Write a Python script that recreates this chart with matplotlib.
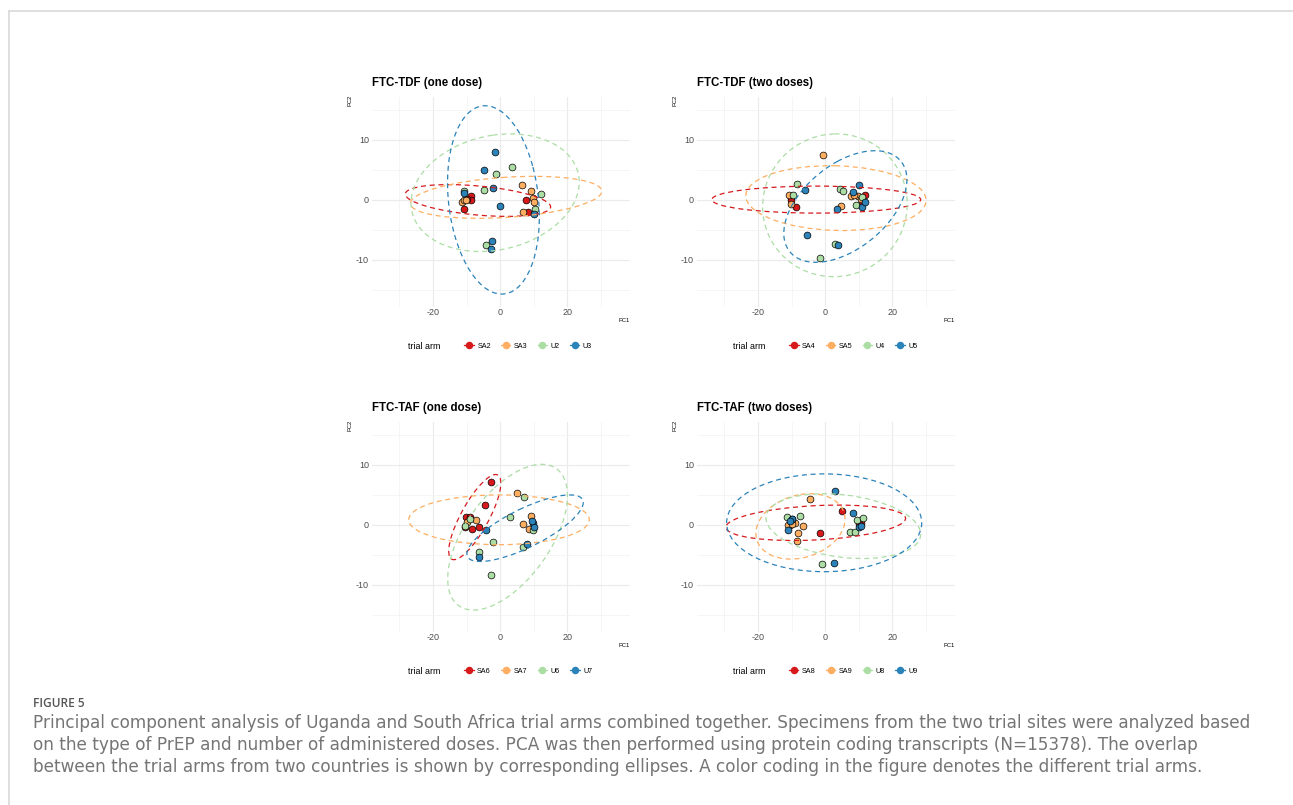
import numpy as np
import matplotlib
matplotlib.use("Agg")
import matplotlib.pyplot as plt
from matplotlib.patches import Ellipse
from matplotlib.lines import Line2D

plt.rcParams["font.family"] = ["Liberation Sans", "DejaVu Sans"]
plt.rcParams["axes.unicode_minus"] = False

# colours (Spectral palette without the middle yellow)
colors = ["#D7191C", "#FDAE61", "#ABDDA4", "#2B83BA"]

titles = ["FTC-TDF (one dose)", "FTC-TDF (two doses)",
          "FTC-TAF (one dose)", "FTC-TAF (two doses)"]

# %% panel 1 - FTC-TDF one dose
p1_labels = ["SA2", "SA3", "U2", "U3"]
p1_x = [[-8.8, -8.8, -10.7, 7.7, 8.4, -9.8],
        [6.4, 9.1, 9.7, 10.1, 6.7, -11.3, -10.7, -10.2],
        [3.5, -1.3, -4.7, -10.7, 12.1, 10.4, -4.3],
        [-1.5, -4.7, -2.0, -0.2, -10.7, 10.1, -2.5, -2.8]]
p1_y = [[0.6, 0.0, -1.55, 0.0, -2.0, 0.2],
        [2.5, 1.55, 0.3, -0.4, -2.1, -0.3, 0.0, -0.1],
        [5.4, 4.3, 1.7, 1.5, 1.0, -1.55, -7.5],
        [8.05, 4.9, 1.95, -1.0, 1.1, -2.3, -6.9, -8.2]]
# ellipses: centre x, centre y, half range x, half range y, correlation
p1_ell = [(-6.6, -0.1, 21.6, 2.65, -0.40),
          (1.75, 0.43, 28.45, 3.5, 0.29),
          (-1.5, 1.2, 25.0, 9.8, 0.18),
          (-2.0, 0.0, 13.65, 15.7, -0.18)]

# %% panel 2 - FTC-TDF two doses
p2_labels = ["SA4", "SA5", "U4", "U5"]
p2_x = [[-10.3, -10.2, -8.8, 11.7, 10.8],
        [-0.7, -10.7, -10.2, 7.7, 9.9, 4.8, 8.5, 10.6],
        [-8.5, -9.6, 4.4, 5.4, 9.2, 10.9, 3.0, -1.4],
        [-6.0, 10.1, 8.4, 10.8, 11.9, 3.6, -5.3, 3.9]]
p2_y = [[0.5, 0.0, -1.2, 0.8, -0.3],
        [7.5, 0.8, -0.7, 0.6, 0.6, -1.0, 0.8, 0.1],
        [2.7, 0.8, 1.8, 1.4, -0.9, 0.4, -7.3, -9.7],
        [1.6, 2.5, 1.3, -1.2, -0.4, -1.6, -5.9, -7.6]]
p2_ell = [(-2.65, 0.05, 31.05, 2.25, 0.0),
          (3.2, 0.3, 26.8, 5.4, -0.07),
          (2.9, -0.9, 21.5, 11.9, 0.02),
          (6.0, -1.1, 18.3, 9.3, 0.48)]

# %% panel 3 - FTC-TAF one dose
p3_labels = ["SA6", "SA7", "U6", "U7"]
p3_x = [[-2.7, -4.6, -10.1, -8.9, -10.4, -8.4, -6.2],
        [5.0, 9.3, 6.7, 8.7, -7.3, -9.8],
        [7.2, 2.9, -2.2, -6.4, -2.6, 6.9, 9.7, -10.4, -9.1],
        [9.7, 10.1, -4.1, -6.3, 8.1, 9.6]]
p3_y = [[7.2, 3.3, 1.4, 1.3, -0.3, -0.7, -0.3],
        [5.4, 1.5, 0.1, -0.7, 0.8, 0.5],
        [4.7, 1.4, -2.8, -4.5, -8.4, -3.6, -0.8, -0.2, 1.0],
        [0.4, -0.3, -0.8, -5.4, -3.2, 0.6]]
p3_ell = [(-7.55, 1.3, 7.75, 7.1, 0.80),
          (-0.35, 0.85, 26.85, 4.15, 0.0),
          (2.2, -2.05, 17.8, 12.15, 0.57),
          (7.4, -0.55, 17.3, 5.55, 0.77)]

# %% panel 4 - FTC-TAF two doses
p4_labels = ["SA8", "SA9", "U8", "U9"]
p4_x = [[5.1, -1.4, 10.6, -10.5, 10.2],
        [-4.4, -11.0, -8.9, -6.7, -8.0, -8.5, -9.9],
        [-11.3, -7.5, -0.8, 7.4, 9.0, 9.5, 11.2, -10.0],
        [3.0, 8.4, 2.7, -11.1, -10.0, 10.1, 10.6, -10.5]]
p4_y = [[2.4, -1.4, 0.4, 0.0, 0.1],
        [4.3, 0.0, 0.3, -0.2, -1.3, -2.7, 0.2],
        [1.4, 1.5, -6.5, -1.2, -1.2, 0.8, 1.1, 1.0],
        [5.6, 2.0, -6.4, -0.8, 1.0, -0.4, -0.2, 0.6]]
p4_ell = [(-2.8, 0.35, 26.7, 2.95, 0.25),
          (-7.35, -0.25, 13.25, 5.45, 0.22),
          (5.4, -0.2, 23.0, 5.4, -0.25),
          (-0.3, 0.35, 29.0, 8.15, 0.0)]

panels = [(p1_labels, p1_x, p1_y, p1_ell),
          (p2_labels, p2_x, p2_y, p2_ell),
          (p3_labels, p3_x, p3_y, p3_ell),
          (p4_labels, p4_x, p4_y, p4_ell)]

W, H = 1293, 805
fig = plt.figure(figsize=(W / 100, H / 100), dpi=100)

# page frame
fig.add_artist(Line2D([9 / W, 1], [1 - 11.5 / H] * 2, color="#d9d9d9", lw=1.2))
fig.add_artist(Line2D([9 / W] * 2, [0, 1 - 11.5 / H], color="#d9d9d9", lw=1.2))

# axes boxes in pixels (left, top)
boxes = [(371.7, 96.7), (696.7, 96.7), (371.7, 421.7), (696.7, 421.7)]
aw, ah = 258.3, 210.0

for i, (labels, xs, ys, ells) in enumerate(panels):
    left, top = boxes[i]
    ax = fig.add_axes([left / W, 1 - (top + ah) / H, aw / W, ah / H])
    ax.set_xlim(-38.2, 38.6)
    ax.set_ylim(-17.8, 17.2)
    ax.set_xticks([-20, 0, 20])
    ax.set_yticks([-10, 0, 10])
    ax.set_xticks([-30, -10, 10, 30], minor=True)
    ax.set_yticks([-15, -5, 5, 15], minor=True)
    ax.grid(True, which="major", color="#EBEBEB", lw=0.8)
    ax.grid(True, which="minor", color="#F2F2F2", lw=0.5)
    ax.set_axisbelow(True)
    for s in ax.spines.values():
        s.set_visible(False)
    ax.tick_params(which="both", length=0, labelsize=6.5, labelcolor="#4D4D4D", pad=2)
    ax.tick_params(axis="x", pad=1)

    for k in range(4):
        ax.scatter(xs[k], ys[k], s=24, color=colors[k], edgecolor="black",
                   linewidth=0.5, zorder=3)

    # dashed ellipses from centre, spread and correlation
    for k, (cx, cy, rx, ry, rho) in enumerate(ells):
        cov = np.array([[rx * rx, rho * rx * ry], [rho * rx * ry, ry * ry]])
        vals, vecs = np.linalg.eigh(cov)
        ang = np.degrees(np.arctan2(vecs[1, 1], vecs[0, 1]))
        e = Ellipse((cx, cy), 2 * np.sqrt(vals[1]), 2 * np.sqrt(vals[0]), angle=ang,
                    fill=False, edgecolor=colors[k], lw=0.9, linestyle=(0, (4, 3)),
                    zorder=4)
        ax.add_patch(e)

    ax.text(0, 1 + 13.7 / ah, titles[i], transform=ax.transAxes, fontsize=8.3,
            fontweight="bold", ha="left", va="center")
    ax.text(-21.5 / aw, 1 - 3.5 / ah, "PC2", transform=ax.transAxes, fontsize=4.2,
            rotation=90, ha="center", va="center")
    ax.text(1, -13.5 / ah, "PC1", transform=ax.transAxes, fontsize=4.2,
            ha="right", va="center")

    # legend under each panel
    ax.text(36.3 / aw, -39.3 / ah, "trial arm", transform=ax.transAxes,
            fontsize=6.4, ha="left", va="center")
    handles = [Line2D([0], [0], color=colors[k], marker="o", markersize=4.4,
                      lw=0.9) for k in range(4)]
    leg = ax.legend(handles, labels, loc="center", ncol=4,
                    bbox_to_anchor=(156.5 / aw, -39.3 / ah), frameon=False,
                    fontsize=5.2, handlelength=1.3, handletextpad=0.5,
                    columnspacing=1.4, borderpad=0)

# caption
fig.text(33 / W, 1 - 703 / H, "FIGURE 5", fontsize=8.6, color="#555555",
         family=["Open Sans", "DejaVu Sans"], fontweight="semibold", va="center")
caption = [
    "Principal component analysis of Uganda and South Africa trial arms combined together. Specimens from the two trial sites were analyzed based",
    "on the type of PrEP and number of administered doses. PCA was then performed using protein coding transcripts (N=15378). The overlap",
    "between the trial arms from two countries is shown by corresponding ellipses. A color coding in the figure denotes the different trial arms.",
]
for j, line in enumerate(caption):
    fig.text(33 / W, 1 - (723 + 22 * j) / H, line, fontsize=12.15, color="#757575",
             family=["DejaVu Sans"], va="center")

fig.savefig("out.png", dpi=100)
